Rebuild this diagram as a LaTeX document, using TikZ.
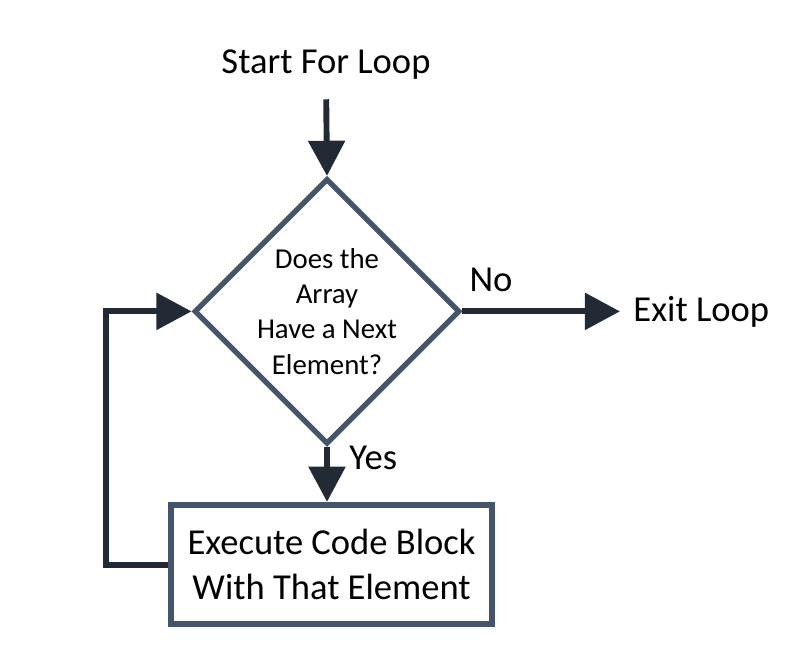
\documentclass[tikz,border=0pt]{standalone}
\usepackage{fontspec}
\setmainfont{Carlito}
\usetikzlibrary{shapes.geometric,arrows.meta,positioning}
\definecolor{bordo}{HTML}{44546A}
\definecolor{scuro}{HTML}{222A35}
\begin{document}
\begin{tikzpicture}[
        decisione/.style={diamond, draw=bordo, line width=3.8pt, minimum width=6.45cm, minimum height=6.45cm, inner sep=0pt, align=center, font=\fontsize{20.5}{25}\selectfont},
        blocco/.style={rectangle, draw=bordo, line width=4.5pt, minimum width=8.03cm, minimum height=2.98cm, align=center, font=\fontsize{26}{32}\selectfont},
        etichetta/.style={inner sep=0pt, font=\fontsize{26}{30}\selectfont},
        freccia/.style={-{Triangle[width=0.9cm,length=0.88cm]}, line width=4.2pt, scuro}
    ]
        % Cornice della figura
        \useasboundingbox (0,0) rectangle (20,16.525);

        % Nodi principali
        \node[etichetta] (start) at (8.15,14.92) {Start For Loop};
        \node[decisione] (check) at (8.175,8.74) {Does the\\Array\\Have a Next\\Element?};
        \node[blocco] (body) at (8.29,2.41) {Execute Code Block\\With That Element};

        % Uscita dal ciclo
        \coordinate (fine) at (15.5,8.74);
        \node[etichetta, anchor=west] (exit) at ([xshift=0.33cm]fine) {Exit Loop};

        % Frecce
        \draw[freccia, shorten <=0.5cm] (start.south) -- (check.north);
        \draw[freccia] (check.east) -- (fine);
        \draw[freccia] (check.south) -- (check.south |- body.north);
        \draw[freccia] (body.west) -- ++(-1.55,0) |- (check.west);

        % Etichette dei rami
        \node[etichetta] (no) at (12.275,9.52) {No};
        \node[etichetta] (yes) at (9.33,5.07) {Yes};
    \end{tikzpicture}
\end{document}
